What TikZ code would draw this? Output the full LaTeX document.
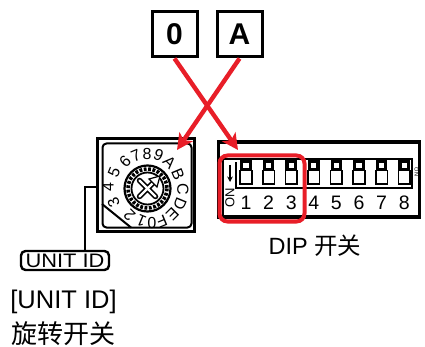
\documentclass[tikz,border=0pt]{standalone}
\usepackage{fontspec}
\setmainfont{Liberation Sans}
\newfontfamily\cjk{Noto Sans CJK SC}
\usetikzlibrary{arrows.meta}
\definecolor{redc}{RGB}{232,30,40}
\tikzset{
  keybox/.style={draw, line width=3pt, minimum width=45pt, minimum height=45pt, inner sep=0pt,
    font=\fontsize{30}{30}\selectfont\bfseries},
  redarrow/.style={draw=redc, line width=4.4pt, -{Stealth[length=16pt,width=16pt,inset=4pt]}},
  dialdigit/.style={inner sep=0pt, font=\fontsize{16}{16}\selectfont},
  dipnum/.style={inner sep=0pt, font=\fontsize{19.5}{19.5}\selectfont},
  frame/.style={draw, line width=2.6pt},
  leader/.style={draw, line width=2.4pt},
}
\begin{document}
\begin{tikzpicture}[x=1pt, y=-1pt]
\useasboundingbox (0,0) rectangle (425,347);

% key boxes
\node[keybox] (k0) at (174.5,34.5) {0};
\node[keybox] (kA) at (239.5,34.5) {A};

% rotary switch
\node[frame, minimum width=97pt, minimum height=93pt, inner sep=0pt] (rot) at (146,185) {};
\draw[line width=2pt, rounded corners=4pt] (102.5,143.5) rectangle (191.5,227.5);
\draw[line width=2pt] (102,204) -- (131,227.5);
\begin{scope}[shift={(147.5,188.5)}]
  \draw[line width=2.2pt] (0,0) circle (23);
  \draw[line width=1.8pt] (0,0) circle (16);
  \draw[line width=3.6pt, dash pattern=on 2.8pt off 1.6pt] (0,0) circle (19.5);
  \draw[line width=5.5pt, line cap=round] (-8,-8) -- (8,8) (-8,8) -- (6,-6);
  \draw[line width=2.2pt, white, line cap=round] (-8,-8) -- (8,8) (-8,8) -- (6,-6);
  \draw[line width=1.2pt, fill=white, line join=miter] (12.5,-12.5) -- (9.5,-1.5) -- (1.5,-9.5) -- cycle;
\end{scope}
\foreach \d/\px/\py/\r in {0/152/223.5/180, 1/141.5/221/157.5, 2/129.5/215/135, 3/113.5/202/112.5,
  4/108/187.5/90, 5/114/172/67.5, 6/125/161.5/45, 7/136/155.5/22.5, 8/147/154/0, 9/158.5/155.5/-22.5,
  A/169.5/162.5/-45, B/178/174/-67.5, C/183/189/-90, D/180/204/-112.5, E/172.5/214.5/-135, F/162/221.5/-157.5}
  \node[dialdigit, rotate=\r] (dg\d) at (\px,\py) {\d};

% UNIT ID box and labels
\node[draw, line width=2.4pt, rounded corners=4.5pt, minimum width=88pt, minimum height=19pt, inner sep=0pt] (uid) at (65,260.5) {};
\node[inner sep=0pt, xscale=1.12, font=\fontsize{19.5}{19.5}\selectfont] (uidtxt) at (65,261) {UNIT ID};
\draw[leader] (rot.west |- 0,187) -| ([xshift=20pt]uid.north);
\node[inner sep=0pt, font=\fontsize{25.5}{25.5}\selectfont] (uidlab) at (63.5,301.5) {[UNIT ID]};
\node[inner sep=0pt, font=\fontsize{26}{26}\selectfont\cjk] (rotlab) at (63.5,333.5) {旋转开关};

% DIP switch
\node[draw, line width=3.4pt, minimum width=201pt, minimum height=75pt, inner sep=0pt] (dip) at (319,179.5) {};
\draw[line width=1.5pt] (223,217) -- (223,159) -- (412,159) -- (412,188) -- (236,188) -- (236,162);
\foreach \i in {1,...,8} {
  \pgfmathsetmacro{\cx}{246+22.6*(\i-1)}
  \fill (\cx-5.8,159) rectangle (\cx+5.8,171);
  \fill[white] (\cx-2.6,163.5) rectangle (\cx+2.6,168.5);
  \draw[line width=1.5pt, fill=white] (\cx-5.8,170.5) rectangle (\cx+5.8,184);
  \node[dipnum] (n\i) at (\cx,203) {\i};
}
\draw[line width=1.5pt, -{Stealth[length=5.5pt,width=5.5pt]}] (230,165) -- (230,182);
\node[inner sep=0pt, rotate=90, font=\fontsize{13}{13}\selectfont] (onl) at (230,198) {ON};
\node[inner sep=0pt, rotate=-90, font=\fontsize{5.5}{5.5}\selectfont] (onr) at (416.5,172) {ON};
\node[inner sep=0pt, font=\fontsize{23.5}{23.5}\selectfont] (diplab) at (315,246) {DIP {\cjk 开关}};

% red highlight
\node[draw=redc, line width=4pt, rounded corners=8pt, minimum width=85pt, minimum height=66pt, inner sep=0pt] (hl) at (262,188.5) {};

% red arrows
\coordinate (trot) at (177,150);
\coordinate (tdip) at (238,150);
\draw[redarrow] (k0.south) -- (tdip);
\draw[redarrow] (kA.south) -- (trot);
\end{tikzpicture}
\end{document}
